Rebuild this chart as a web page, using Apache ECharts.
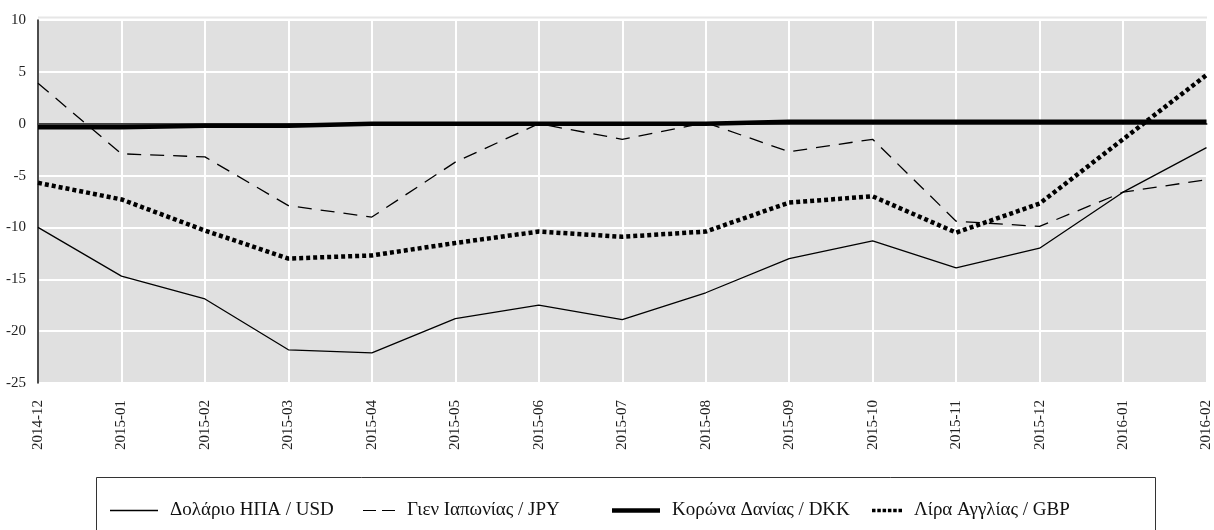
<!DOCTYPE html>
<html><head><meta charset="utf-8">
<script src="https://cdn.jsdelivr.net/npm/echarts@6/dist/echarts.min.js"></script>
<style>html,body{margin:0;padding:0;background:#fff}#c{width:1214px;height:530px}</style>
</head><body><div id="c"></div>
<script>
const categories = ['2014-12','2015-01','2015-02','2015-03','2015-04','2015-05','2015-06','2015-07','2015-08','2015-09','2015-10','2015-11','2015-12','2016-01','2016-02'];
const usd = [-10.0,-14.7,-16.9,-21.8,-22.1,-18.8,-17.5,-18.9,-16.3,-13.0,-11.3,-13.9,-12.0,-6.6,-2.3];
const jpy = [3.9,-2.9,-3.2,-7.9,-9.0,-3.7,0.0,-1.5,0.1,-2.7,-1.5,-9.4,-9.9,-6.6,-5.4];
const dkk = [-0.35,-0.35,-0.2,-0.2,0.0,0.0,0.0,0.0,0.0,0.2,0.2,0.2,0.2,0.2,0.2];
const gbp = [-5.7,-7.3,-10.3,-13.0,-12.7,-11.5,-10.4,-10.9,-10.4,-7.6,-7.0,-10.5,-7.7,-1.5,4.7];
const names = ['Δολάριο ΗΠΑ / USD','Γιεν Ιαπωνίας / JPY','Κορώνα Δανίας / DKK','Λίρα Αγγλίας / GBP'];

const font = '"Liberation Serif", "DejaVu Serif", serif';
const legendText = {fontFamily:font,fontSize:19,color:'#111',padding:[0,0,0,7]};
function mkLegend(name, left, w, h, icon){
  return {show:true,top:501,left:left,itemWidth:w,itemHeight:h,padding:0,
    textStyle:legendText,data:[{name:name,icon:icon,itemStyle:{color:'#000',borderWidth:0}}],selectedMode:false};
}
const chart = echarts.init(document.getElementById('c'), null, {renderer:'canvas'});
chart.setOption({
  animation:false,
  textStyle:{fontFamily:font},
  grid:{left:38,right:7,top:20,bottom:147,show:true,backgroundColor:'#e0e0e0',borderWidth:0,containLabel:false},
  graphic:[
    {type:'rect',shape:{x:96.5,y:477.5,width:1059,height:80},style:{fill:'none',stroke:'#333',lineWidth:1},silent:true},
    {type:'rect',shape:{x:38,y:16.5,width:1169,height:2},style:{fill:'#e6e6e6'},silent:true,z:-1}
  ],
  legend:[
    mkLegend(names[0],110,48,1.5,'rect'),
    mkLegend(names[1],363,32,1.5,'path://M0,0H13V1H0Z M19,0H32V1H19Z'),
    mkLegend(names[2],612,48,4.5,'rect'),
    mkLegend(names[3],872,30,3.5,'path://M0,0H3.5V3.5H0Z M5.3,0H8.8V3.5H5.3Z M10.6,0H14.1V3.5H10.6Z M15.9,0H19.4V3.5H15.9Z M21.2,0H24.7V3.5H21.2Z M26.5,0H30V3.5H26.5Z')
  ],
  xAxis:{
    type:'category',data:categories,boundaryGap:false,
    axisLine:{lineStyle:{color:'#404040',width:2}},
    axisTick:{show:false},
    axisLabel:{rotate:90,fontFamily:font,fontSize:15,color:'#222',margin:17},
    splitLine:{show:true,lineStyle:{color:'#ffffff',width:2}}
  },
  yAxis:{
    type:'value',min:-25,max:10,interval:5,
    axisLine:{show:true,lineStyle:{color:'#111',width:1.5}},
    axisTick:{show:false},
    axisLabel:{fontFamily:font,fontSize:15,color:'#222',margin:12},
    splitLine:{lineStyle:{color:'#ffffff',width:2}}
  },
  series:[
    {name:names[0],type:'line',data:usd,symbol:'none',itemStyle:{color:'#000'},lineStyle:{color:'#000',width:1.3}},
    {name:names[1],type:'line',data:jpy,symbol:'none',itemStyle:{color:'#000'},lineStyle:{color:'#000',width:1.3,type:[14,9]}},
    {name:names[2],type:'line',data:dkk,symbol:'none',itemStyle:{color:'#000'},lineStyle:{color:'#000',width:4.5}},
    {name:names[3],type:'line',data:gbp,symbol:'none',itemStyle:{color:'#000'},lineStyle:{color:'#000',width:4.5,type:[4,3],cap:'butt'}}
  ]
});
</script></body></html>
